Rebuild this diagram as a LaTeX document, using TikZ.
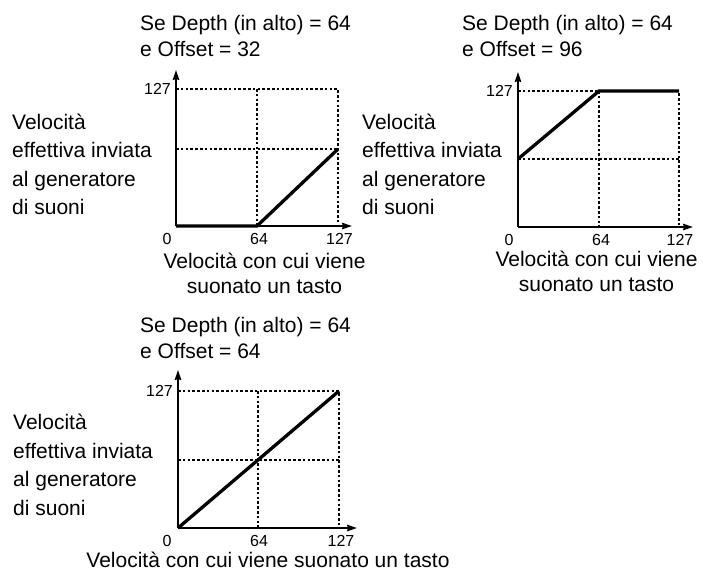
\documentclass[tikz,border=0pt]{standalone}
\usepackage{fontspec}
\setmainfont{Liberation Sans}
\usepackage{tikz}
\usetikzlibrary{arrows.meta}

\begin{document}
\begin{tikzpicture}[x=1pt, y=-1pt, >={Stealth[length=10pt,width=6.5pt,inset=1pt]},
  axis/.style={->, line width=1.6pt},
  grid line/.style={line width=1.2pt, dash pattern=on 2.6pt off 2.2pt},
  curve/.style={line width=3.3pt},
  tick label/.style={font=\fontsize{16}{18}\selectfont, inner sep=0pt},
  title text/.style={font=\fontsize{21}{26}\selectfont, inner sep=0pt, align=left, anchor=base west},
  side text/.style={font=\fontsize{21}{28.5}\selectfont, inner sep=0pt, align=left, anchor=base west},
  foot text/.style={font=\fontsize{21}{25.5}\selectfont, inner sep=0pt, align=center, anchor=base}]
\useasboundingbox (0,0) rectangle (714,574);

% Grafico 1: Offset = 32
\coordinate (o1) at (176,226);
\coordinate (x1) at (352,226);
\coordinate (y1) at (176,70);
\coordinate (k1) at (257,226);
\coordinate (e1) at (338,149);
\draw[grid line] (176,89) -| (338,226);
\draw[grid line] (176,149) -- (338,149);
\draw[grid line] (257,89) -- (257,226);
\draw[axis] (o1) -- (x1);
\draw[axis] (o1) -- (y1);
\draw[curve] (o1) -- (k1) -- (e1);
\node[tick label, anchor=east] (top1) at (171,89) {127};
\node[tick label] (zero1) at (167,239) {0};
\node[tick label] (half1) at (259,239) {64};
\node[tick label] (full1) at (339.5,239) {127};
\node[title text] (t1) at (140,56) {Se Depth (in alto) = 64\\e Offset = 32};
\node[side text] (v1) at (12,214.5) {Velocità\\effettiva inviata\\al generatore\\di suoni};
\node[foot text] (f1) at (264.5,293.5) {Velocità con cui viene\\suonato un tasto};

% Grafico 2: Offset = 96
\coordinate (o2) at (518,227);
\coordinate (x2) at (693,227);
\coordinate (y2) at (518,72);
\coordinate (s2) at (518,159);
\coordinate (k2) at (599,91);
\coordinate (e2) at (679,91);
\draw[grid line] (518,91) -| (679,227);
\draw[grid line] (518,159) -- (679,159);
\draw[grid line] (599,91) -- (599,227);
\draw[axis] (o2) -- (x2);
\draw[axis] (o2) -- (y2);
\draw[curve] (s2) -- (k2) -- (e2);
\node[tick label, anchor=east] (top2) at (513,91) {127};
\node[tick label] (zero2) at (509,240) {0};
\node[tick label] (half2) at (601,240) {64};
\node[tick label] (full2) at (680,240) {127};
\node[title text] (t2) at (462,56) {Se Depth (in alto) = 64\\e Offset = 96};
\node[side text] (v2) at (362,214.5) {Velocità\\effettiva inviata\\al generatore\\di suoni};
\node[foot text] (f2) at (596.5,291.5) {Velocità con cui viene\\suonato un tasto};

% Grafico 3: Offset = 64
\coordinate (o3) at (178,528);
\coordinate (x3) at (357,528);
\coordinate (y3) at (178,370);
\coordinate (e3) at (339,391);
\draw[grid line] (178,391) -| (339,528);
\draw[grid line] (178,460) -- (339,460);
\draw[grid line] (258,391) -- (258,528);
\draw[axis] (o3) -- (x3);
\draw[axis] (o3) -- (y3);
\draw[curve] (o3) -- (e3);
\node[tick label, anchor=east] (top3) at (173,391) {127};
\node[tick label] (zero3) at (167,541) {0};
\node[tick label] (half3) at (259,541) {64};
\node[tick label] (full3) at (341,541) {127};
\node[title text] (t3) at (140,358) {Se Depth (in alto) = 64\\e Offset = 64};
\node[side text] (v3) at (13,515) {Velocità\\effettiva inviata\\al generatore\\di suoni};
\node[foot text] (f3) at (268,567) {Velocità con cui viene suonato un tasto};
\end{tikzpicture}
\end{document}
